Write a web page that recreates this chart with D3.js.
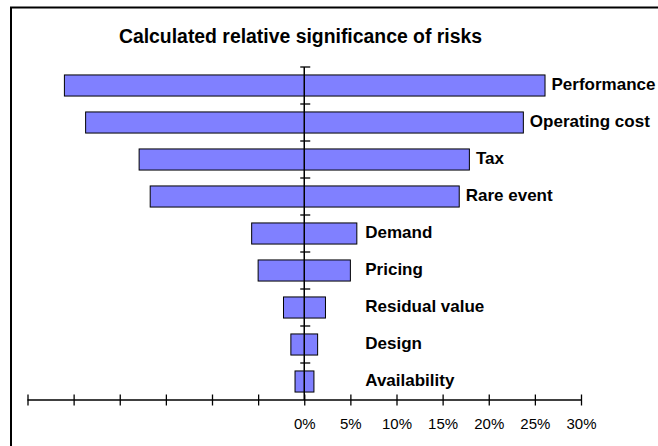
<!DOCTYPE html>
<html>
<head>
<meta charset="utf-8">
<script src="https://cdn.jsdelivr.net/npm/d3@7"></script>
<style>
  html, body { margin: 0; padding: 0; background: #fff; }
  svg { display: block; font-family: "Liberation Sans", Arial, Helvetica, sans-serif; }
</style>
</head>
<body>
<svg id="chart" width="658" height="446"></svg>
<script>
// Risk categories, ordered from most to least significant
const categories = ["Performance", "Operating cost", "Tax", "Rare event", "Demand",
                    "Pricing", "Residual value", "Design", "Availability"];
// Downside swing (%) of each risk
const lowValues  = [-26.0, -23.7, -17.9, -16.7, -5.7, -5.0, -2.25, -1.45, -1.0];
// Upside swing (%) of each risk
const highValues = [26.1, 23.75, 17.9, 16.8, 5.7, 5.0, 2.3, 1.45, 1.05];
// Horizontal axis ticks (only the non-negative ones carry a label)
const tickValues = [-30, -25, -20, -15, -10, -5, 0, 5, 10, 15, 20, 25, 30];
const title = "Calculated relative significance of risks";

const rows = categories.map((c, i) => ({ name: c, low: lowValues[i], high: highValues[i] }));

const svg = d3.select("#chart");

// Chart frame (its right and bottom edges fall outside the view)
svg.append("rect")
  .attr("x", 11).attr("y", 7.5)
  .attr("width", 700).attr("height", 500)
  .attr("fill", "none").attr("stroke", "#000").attr("stroke-width", 2);

const x = d3.scaleLinear().domain([-30, 30]).range([27.5, 581]);
const y = d3.scaleBand().domain(categories).range([67, 400])
  .paddingInner(0.43).paddingOuter(0.215);

// Title
svg.append("text")
  .attr("x", 300.5).attr("y", 43)
  .attr("text-anchor", "middle")
  .attr("font-weight", "bold")
  .attr("font-size", 19.4)
  .attr("fill", "#000")
  .text(title);

// Bars spanning the low..high swing
svg.append("g").selectAll("rect")
  .data(rows)
  .join("rect")
  .attr("x", d => x(d.low))
  .attr("y", d => y(d.name))
  .attr("width", d => x(d.high) - x(d.low))
  .attr("height", y.bandwidth())
  .attr("fill", "#8080FF")
  .attr("stroke", "#000")
  .attr("stroke-width", 1);

// Category labels to the right of each bar
svg.append("g").selectAll("text")
  .data(rows)
  .join("text")
  .attr("x", d => Math.max(x(d.high) + 6.5, x(0) + 61))
  .attr("y", d => y(d.name) + y.bandwidth() / 2 + 4)
  .attr("font-weight", "bold")
  .attr("font-size", 17)
  .attr("fill", "#000")
  .text(d => d.name);

// Horizontal value axis
const xAxis = d3.axisBottom(x)
  .tickValues(tickValues)
  .tickSize(0)
  .tickPadding(0)
  .tickFormat(d => d >= 0 ? d + "%" : "");
const gx = svg.append("g").attr("transform", "translate(0,400)").call(xAxis);
gx.select(".domain").remove();
gx.append("line")
  .attr("x1", x(-30)).attr("x2", x(30))
  .attr("stroke", "#000").attr("stroke-width", 1.3);
gx.selectAll(".tick").append("line")
  .attr("y1", -5.5).attr("y2", 5.5)
  .attr("stroke", "#000").attr("stroke-width", 1.3);
gx.selectAll(".tick text")
  .attr("y", 29)
  .attr("dy", null)
  .attr("font-size", 15)
  .attr("font-family", "\"Liberation Sans\", Arial, sans-serif")
  .attr("fill", "#000");

// Vertical category axis through 0%
const boundaries = categories.map(c => y(c) - y.step() * y.paddingInner() / 2);
const gy = svg.append("g");
gy.append("line")
  .attr("x1", x(0)).attr("x2", x(0))
  .attr("y1", y.range()[0]).attr("y2", y.range()[1])
  .attr("stroke", "#000").attr("stroke-width", 1.5);
gy.selectAll("line.tick")
  .data(boundaries)
  .join("line")
  .attr("class", "tick")
  .attr("x1", x(0) - 4).attr("x2", x(0) + 6)
  .attr("y1", d => d).attr("y2", d => d)
  .attr("stroke", "#000").attr("stroke-width", 1.3);
</script>
</body>
</html>
